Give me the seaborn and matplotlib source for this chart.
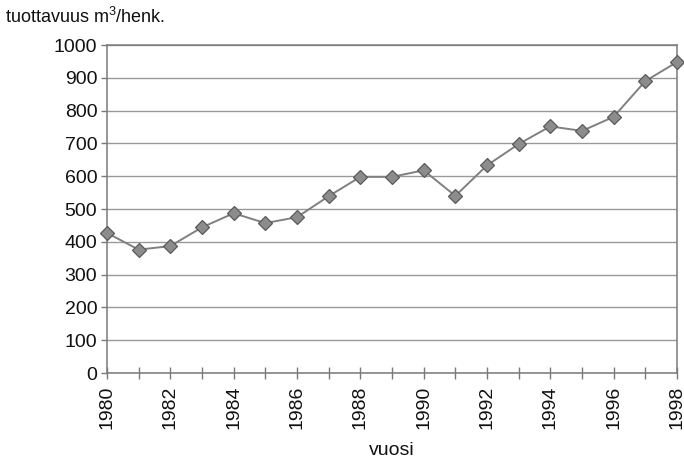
import matplotlib
matplotlib.use("Agg")
import matplotlib.pyplot as plt
import seaborn as sns
import pandas as pd

# Productivity per person, cubic metres, 1980-1998
years = list(range(1980, 1999))
productivity = [427, 376, 387, 444, 487, 457, 475, 539, 598, 598,
                618, 540, 633, 698, 752, 738, 781, 890, 948]
y_ticks = list(range(0, 1001, 100))
x_label_years = list(range(1980, 1999, 2))

df = pd.DataFrame({"vuosi": years, "tuottavuus": productivity})

sns.set_style("white")
plt.rcParams["font.family"] = ["Liberation Sans", "DejaVu Sans"]
plt.rcParams["mathtext.fontset"] = "custom"
plt.rcParams["mathtext.rm"] = "Liberation Sans"
plt.rcParams["mathtext.it"] = "Liberation Sans"
plt.rcParams["mathtext.default"] = "regular"

fig = plt.figure(figsize=(6.84, 4.61), dpi=100)
ax = fig.add_axes([107 / 684, 1 - 373 / 461, 570 / 684, 328 / 461])

sns.lineplot(data=df, x="vuosi", y="tuottavuus", ax=ax, color="#808080",
             linewidth=1.4, marker="D", markersize=7.5,
             markerfacecolor="#8c8c8c", markeredgecolor="#5a5a5a",
             markeredgewidth=0.9, clip_on=False, zorder=3)

ax.set_xlim(1980, 1998)
ax.set_ylim(0, 1000)
ax.set_yticks(y_ticks)
ax.set_yticklabels([str(v) for v in y_ticks], fontsize=14)
ax.set_xticks(years, minor=True)
ax.set_xticks(x_label_years)
ax.set_xticklabels([str(v) for v in x_label_years], rotation=90, fontsize=14)

ax.grid(axis="y", color="#9a9a9a", linewidth=1.0)
ax.grid(axis="x", visible=False)
ax.set_axisbelow(True)

for side, spine in ax.spines.items():
    spine.set_visible(True)
    spine.set_color("#7a7a7a")
    spine.set_linewidth(1.1)

ax.tick_params(axis="y", which="major", direction="out", length=4, width=1,
               color="#7a7a7a", pad=3, left=True, labelcolor="#111111")
ax.tick_params(axis="x", which="both", direction="inout", length=8, width=1,
               color="#7a7a7a", pad=5, bottom=True, labelcolor="#111111")

ax.set_xlabel("")
ax.set_ylabel("")

fig.text(392 / 684, 1 - 450 / 461, "vuosi", fontsize=14,
         color="#111111", ha="center", va="center")
fig.text(5 / 684, 1 - 17 / 461, "tuottavuus m$^3$/henk.", fontsize=13,
         color="#111111", ha="left", va="center")

fig.savefig("out.png", dpi=100)
